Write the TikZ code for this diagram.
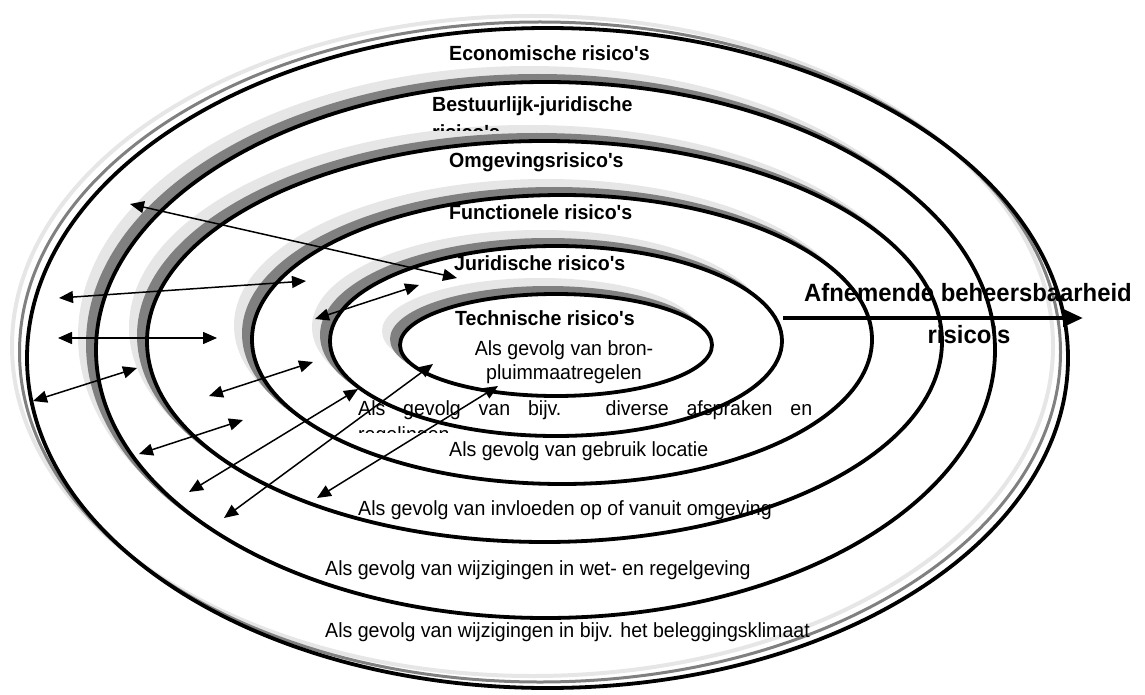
\documentclass[tikz,border=0pt]{standalone}
\usepackage{graphicx}
\usepackage{fontspec}
\setmainfont{Liberation Sans}[Ligatures=TeXOff]
\usetikzlibrary{arrows.meta}
\definecolor{shadelight}{RGB}{230,230,230}
\definecolor{shadedark}{RGB}{128,128,128}

% slightly condensed lettering
\newcommand\narrowtxt[1]{\scalebox{0.955}[1]{#1}}

% one risk ring: centre x, centre y, x radius, y radius (all in pt)
\newcommand\riskring[4]{%
  \fill[shadelight] ({#1-16},{#2-14}) ellipse [x radius={#3pt+2pt}, y radius={#4pt+2pt}];
  \fill[shadedark]  ({#1-8},{#2-6})   ellipse [x radius={#3pt+2pt}, y radius={#4pt+2pt}];
  \draw[ringline, fill=white] (#1,#2) ellipse [x radius=#3pt, y radius=#4pt];
}

\begin{document}
\begin{tikzpicture}[x=1pt,y=-1pt,
  ringline/.style={draw=black, line width=3.8pt},
  headtxt/.style={inner sep=0pt, anchor=base west, font=\fontsize{20.5}{24}\selectfont\bfseries},
  bodytxt/.style={inner sep=0pt, anchor=base west, font=\fontsize{20.5}{24}\selectfont},
  bigtxt/.style={inner sep=0pt, anchor=base, font=\fontsize{25}{29}\selectfont\bfseries},
  twoway/.style={line width=1.5pt, {Triangle[length=14pt,width=12pt]}-{Triangle[length=14pt,width=12pt]}},
  oneway/.style={line width=4.5pt, -{Triangle[length=20pt,width=17pt]}}]
\useasboundingbox (0,0) rectangle (1145,695);

% outer ring: outline with two thin shadow outlines
\draw[shadelight, line width=4pt] (532.5,346) ellipse [x radius=520.5pt, y radius=330pt];
\draw[shadedark, line width=3pt] (540,352) ellipse [x radius=520.5pt, y radius=330pt];
\draw[ringline] (547.5,358) ellipse [x radius=520.5pt, y radius=330pt];

% inner rings with solid shadows
\riskring{545.5}{350}{449.5}{268}
\riskring{544.5}{341.5}{397.5}{200.5}
\riskring{562}{339.5}{310}{144.5}
\riskring{556}{341}{226}{95}
\riskring{556}{345}{156}{51}

% ring titles
\node[headtxt] (eco) at (449,61) {\narrowtxt{Economische risico's}};
\node[headtxt] (bj1) at (432,112) {\narrowtxt{Bestuurlijk-juridische}};
\begin{scope}
  \clip (420,90) rectangle (700,131);
  \node[headtxt] (bj2) at (432,140) {\narrowtxt{risico's}};
\end{scope}
\node[headtxt] (omg) at (449,168) {\narrowtxt{Omgevingsrisico's}};
\node[headtxt] (fun) at (449,219) {\narrowtxt{Functionele risico's}};
\node[headtxt] (jur) at (454,270) {\narrowtxt{Juridische risico's}};
\node[headtxt] (tec) at (455,325) {\narrowtxt{Technische risico's}};

% causes
\node[bodytxt, anchor=base] (c1a) at (564,355) {\narrowtxt{Als gevolg van bron-}};
\node[bodytxt, anchor=base] (c1b) at (564,379) {\narrowtxt{pluimmaatregelen}};
\node[bodytxt] (c2a) at (358,415) {\narrowtxt{\makebox[475.4pt][s]{Als gevolg van bijv. diverse afspraken en}}};
\begin{scope}
  \clip (340,395) rectangle (480,432);
  \node[bodytxt] (c2b) at (358,441) {\narrowtxt{regelingen}};
\end{scope}
\node[bodytxt] (c3) at (449,456) {\narrowtxt{Als gevolg van gebruik locatie}};
\node[bodytxt] (c4) at (358,515) {\narrowtxt{Als gevolg van invloeden op of vanuit omgeving}};
\node[bodytxt] (c5) at (325,575) {\narrowtxt{Als gevolg van wijzigingen in wet- en regelgeving}};
\node[bodytxt] (c6) at (325,637) {\narrowtxt{Als gevolg van wijzigingen in bijv. het beleggingsklimaat}};

% direction of decreasing control
\node[bigtxt] (afn1) at (968,301) {\narrowtxt{Afnemende beheersbaarheid}};
\node[bigtxt] (afn2) at (969,343) {\narrowtxt{risico's}};
\coordinate (bigS) at (783,318);
\coordinate (bigE) at (1083,318);
\draw[oneway] (bigS) -- (bigE);

% interaction arrows between the rings
\coordinate (a1s) at (130,204);  \coordinate (a1e) at (457,278);
\coordinate (a2s) at (59,298);   \coordinate (a2e) at (306,281);
\coordinate (a3s) at (58,338);   \coordinate (a3e) at (217,338);
\coordinate (a4s) at (315,319);  \coordinate (a4e) at (419,285);
\coordinate (a5s) at (33,401);   \coordinate (a5e) at (137,368);
\coordinate (a6s) at (209,396);  \coordinate (a6e) at (313,362);
\coordinate (a7s) at (139,454);  \coordinate (a7e) at (243,420);
\coordinate (a8s) at (189,492);  \coordinate (a8e) at (358,389);
\coordinate (a9s) at (224,518);  \coordinate (a9e) at (433,364);
\coordinate (a10s) at (317,498); \coordinate (a10e) at (498,386);
\foreach \k in {1,...,10} {
  \draw[twoway] (a\k s) -- (a\k e);
}
\end{tikzpicture}
\end{document}
